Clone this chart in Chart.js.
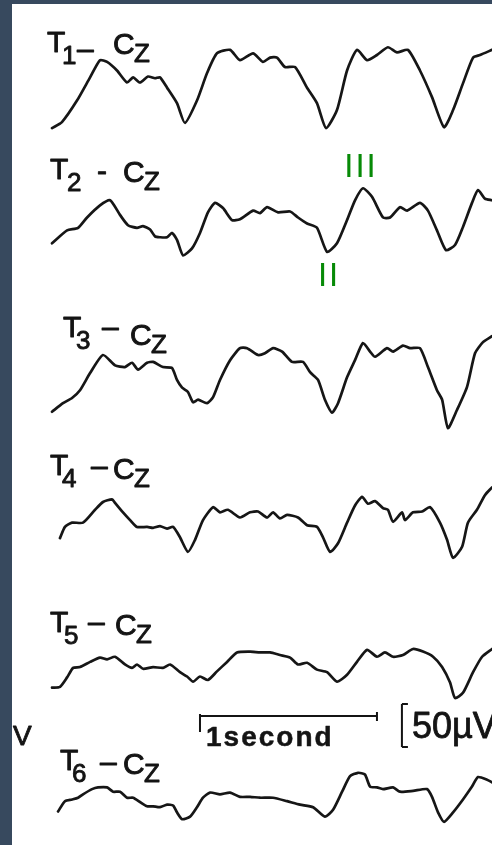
<!DOCTYPE html>
<html>
<head>
<meta charset="utf-8">
<script src="https://cdn.jsdelivr.net/npm/chart.js@4/dist/chart.umd.min.js"></script>
<style>
  html, body { margin: 0; padding: 0; background: #fff; }
  body { width: 492px; height: 845px; overflow: hidden; }
  canvas { display: block; }
</style>
</head>
<body>
<canvas id="eeg" width="492" height="845"></canvas>
<script>
// Temporal-to-vertex EEG derivations. Time in ms, amplitude in µV.
const electrodes = ['T1', 'T2', 'T3', 'T4', 'T5', 'T6'];
const referenceElectrode = 'CZ';

const t1Ms = [0,56,141,215,271,311,367,424,458,497,542,582,610,650,706,751,819,876,932,1006,1062,1136,1192,1232,1271,1316,1373,1441,1497,1548,1610,1667,1723,1780,1836,1898,1949,2011,2079,2147,2215,2266,2322,2379,2418,2486];
const t1Uv = [-44,-37,-12,15,35,33,23,9,15,9,16,14,15,3,-15,-38,-12,20,43,47,35,43,33,38,38,27,27,3,-15,-44,-23,23,47,35,41,50,44,47,23,-8,-43,-23,8,38,41,47];

const t2Ms = [0,85,147,198,271,328,384,429,480,514,554,582,610,650,678,706,740,791,836,881,921,966,1017,1062,1136,1175,1215,1277,1345,1390,1441,1497,1554,1610,1667,1712,1757,1808,1870,1910,1966,2006,2079,2124,2175,2226,2277,2322,2373,2407,2446,2486];
const t2Uv = [-21,-6,-3,9,23,29,12,0,-3,-1,-5,-13,-14,-14,-9,-17,-35,-27,-9,15,26,20,6,7,17,14,21,15,16,9,2,-3,-31,-21,6,29,43,33,9,9,21,17,26,17,-6,-29,-23,-2,26,41,31,29];

const t3Ms = [0,62,113,158,215,288,356,412,452,486,537,571,627,678,706,735,768,797,825,876,910,949,1006,1062,1102,1164,1203,1249,1300,1356,1418,1458,1503,1542,1582,1616,1667,1712,1757,1797,1825,1893,1927,1983,2023,2079,2124,2175,2204,2237,2288,2345,2390,2435,2486];
const t3Uv = [-37,-27,-21,-12,8,29,17,15,20,12,20,21,15,14,0,-9,-14,-26,-23,-27,-20,0,23,37,37,29,31,37,33,21,21,9,0,-23,-38,-27,3,23,43,33,27,37,33,40,37,37,15,-12,-23,-56,-35,-8,31,44,51];

const t4Ms = [45,73,113,175,243,288,339,356,401,441,480,537,571,610,650,684,723,768,808,853,910,949,994,1062,1119,1164,1215,1249,1288,1328,1390,1441,1497,1531,1571,1616,1667,1712,1752,1785,1825,1870,1898,1927,1978,1994,2040,2091,2136,2192,2232,2266,2317,2350,2401,2446,2486];
const t4Uv = [-21,-8,-3,-3,12,21,24,20,9,0,-8,-8,-9,-7,-10,-8,-20,-37,-23,0,15,9,12,3,9,10,3,9,2,6,3,-6,-8,-20,-37,-27,-3,17,27,19,22,14,12,-2,9,0,9,10,15,-3,-23,-44,-31,-3,12,29,38];

const t5Ms = [0,45,85,119,158,215,271,311,356,412,452,480,514,571,627,667,723,763,797,836,881,932,989,1045,1119,1175,1232,1288,1345,1390,1441,1497,1554,1610,1667,1723,1780,1836,1881,1927,1983,2040,2096,2153,2204,2249,2277,2322,2379,2430,2486];
const t5Uv = [-21,-20,-9,2,3,9,14,12,15,6,2,6,1,3,2,6,-3,-8,-14,-8,-12,-2,9,20,21,20,20,17,14,6,8,0,-3,-14,-6,9,23,15,20,15,17,24,21,15,3,-15,-33,-27,-3,15,24];

const t6Ms = [34,73,113,147,175,226,260,311,345,384,424,458,497,537,571,610,650,684,706,735,780,819,853,893,949,1006,1062,1119,1175,1249,1328,1401,1475,1542,1588,1639,1684,1729,1768,1797,1836,1870,1927,1966,2040,2119,2147,2181,2215,2266,2322,2373,2407,2458,2486];
const t6Uv = [-14,-2,0,2,6,12,14,14,9,9,2,2,-3,-8,-8,-9,-6,-7,-15,-23,-20,-9,2,8,6,8,3,3,2,2,-2,-6,-9,-20,-12,9,27,31,29,15,14,12,14,9,10,12,3,-15,-26,-15,0,15,26,23,20];

// Component markers on the T2 trace (index into t2Ms / t2Uv)
const componentMarks = [
  { text: 'II',  channel: 1, index: 32, below: true },
  { text: 'III', channel: 1, index: 36, below: false }
];

// Calibration: 1 second horizontal, 50 µV vertical
const calibTimeMs = 1000;
const calibAmpUv = 50;
const calibStartMs = 836;
const calibLevelUv = -833;
const ampBarMs = 1977;
const ampBarTopUv = -819;

const channelTimes = [t1Ms, t2Ms, t3Ms, t4Ms, t5Ms, t6Ms];
const channelValues = [t1Uv, t2Uv, t3Uv, t4Uv, t5Uv, t6Uv];
// vertical spacing of the montage rows (µV)
const rowOffsets = [-105, -262, -442, -605, -779, -930];

const datasets = channelTimes.map((times, c) => ({
  label: electrodes[c] + '-' + referenceElectrode,
  data: times.map((t, i) => ({ x: t, y: channelValues[c][i] + rowOffsets[c] })),
  borderColor: '#161616',
  borderWidth: 2.7,
  borderJoinStyle: 'round',
  borderCapStyle: 'round',
  pointRadius: 0,
  tension: 0.2,
  fill: false
}));

// row label layout: T left/top, subscript left, dash left/height/glyph, C left/top
const rowLabelLayout = [
  { tx: 47, ty: 30,  sx: 62, dx: 77,  dy: 50,  dash: '–', cx: 113, cy: 32 },
  { tx: 50, ty: 157, sx: 67, dx: 97,  dy: 172, dash: '-', cx: 123, cy: 160 },
  { tx: 63, ty: 315, sx: 76, dx: 102, dy: 328, dash: '–', cx: 130, cy: 323 },
  { tx: 50, ty: 453, sx: 62, dx: 91,  dy: 467, dash: '–', cx: 113, cy: 457 },
  { tx: 50, ty: 610, sx: 64, dx: 88,  dy: 623, dash: '–', cx: 115, cy: 613 },
  { tx: 60, ty: 748, sx: 72, dx: 100, dy: 763, dash: '–', cx: 123, cy: 752 }
];

const FONT = '"Liberation Sans", Arial, sans-serif';

function inkText(ctx, s, x, y) {
  ctx.fillText(s, x, y);
  ctx.strokeText(s, x, y);
}

const eegDecor = {
  id: 'eegDecor',
  afterDatasetsDraw(chart) {
    const ctx = chart.ctx;
    const xs = chart.scales.x, ys = chart.scales.y;
    ctx.save();
    ctx.fillStyle = '#141414';
    ctx.strokeStyle = '#141414';
    ctx.lineWidth = 0.9;
    ctx.lineJoin = 'round';
    ctx.textBaseline = 'alphabetic';
    ctx.textAlign = 'left';

    // derivation labels, e.g. T1 – Cz
    electrodes.forEach((name, c) => {
      const L = rowLabelLayout[c];
      ctx.font = '30px ' + FONT;
      inkText(ctx, name[0], L.tx, L.ty + 22);
      ctx.font = '26px ' + FONT;
      inkText(ctx, name.slice(1), L.sx, L.ty + 34);
      ctx.font = '30px ' + FONT;
      inkText(ctx, L.dash, L.dx, L.dy + 9);
      inkText(ctx, referenceElectrode[0], L.cx, L.cy + 22);
      ctx.font = '26px ' + FONT;
      inkText(ctx, referenceElectrode[1], L.cx + 21, L.cy + 30);
    });

    // component markers
    ctx.fillStyle = '#078a07';
    ctx.font = '33px ' + FONT;
    ctx.textAlign = 'center';
    try { ctx.letterSpacing = '2px'; } catch (e) {}
    componentMarks.forEach(m => {
      const px = xs.getPixelForValue(channelTimes[m.channel][m.index]);
      const py = ys.getPixelForValue(channelValues[m.channel][m.index] + rowOffsets[m.channel]);
      if (m.below) {
        ctx.fillText(m.text, px + 2, py + 34);
      } else {
        ctx.fillText(m.text, px - 2, py - 11);
      }
    });
    try { ctx.letterSpacing = '0px'; } catch (e) {}

    // calibration bars
    ctx.fillStyle = '#141414';
    ctx.lineWidth = 2;
    const x0 = xs.getPixelForValue(calibStartMs);
    const x1 = xs.getPixelForValue(calibStartMs + calibTimeMs);
    const yl = ys.getPixelForValue(calibLevelUv);
    ctx.beginPath();
    ctx.moveTo(x0, yl); ctx.lineTo(x1, yl);
    ctx.moveTo(x0, yl - 2); ctx.lineTo(x0, yl + 16);
    ctx.moveTo(x1, yl - 4); ctx.lineTo(x1, yl + 5);
    ctx.stroke();
    const ax = xs.getPixelForValue(ampBarMs);
    const ay0 = ys.getPixelForValue(ampBarTopUv);
    const ay1 = ys.getPixelForValue(ampBarTopUv - calibAmpUv);
    ctx.beginPath();
    ctx.moveTo(ax, ay0); ctx.lineTo(ax, ay1);
    ctx.moveTo(ax, ay0); ctx.lineTo(ax + 6, ay0);
    ctx.moveTo(ax, ay1); ctx.lineTo(ax + 6, ay1);
    ctx.stroke();

    ctx.textAlign = 'left';
    ctx.lineWidth = 0.5;
    ctx.font = 'bold 28px ' + FONT;
    try { ctx.letterSpacing = '2px'; } catch (e) {}
    inkText(ctx, '1second', x0 + 6, yl + 30);
    try { ctx.letterSpacing = '0px'; } catch (e) {}
    ctx.lineWidth = 0.8;
    ctx.font = '36px ' + FONT;
    inkText(ctx, calibAmpUv + 'µV', ax + 10, ay0 + 34);

    ctx.font = '28px ' + FONT;
    inkText(ctx, 'V', 13, 745);
    ctx.restore();
  },
  afterDraw(chart) {
    // slate frame on the left and top edges
    const ctx = chart.ctx;
    ctx.save();
    ctx.fillStyle = '#37495e';
    ctx.fillRect(0, 0, 12, 845);
    ctx.fillRect(0, 0, 492, 4);
    ctx.restore();
  }
};

new Chart(document.getElementById('eeg'), {
  type: 'line',
  data: { datasets },
  options: {
    responsive: false,
    animation: false,
    devicePixelRatio: 1,
    layout: { padding: 0 },
    scales: {
      x: { type: 'linear', min: -294, max: 2486, display: false },
      y: { type: 'linear', min: -983, max: 0, display: false }
    },
    plugins: { legend: { display: false }, tooltip: { enabled: false } }
  },
  plugins: [eegDecor]
});
</script>
</body>
</html>
